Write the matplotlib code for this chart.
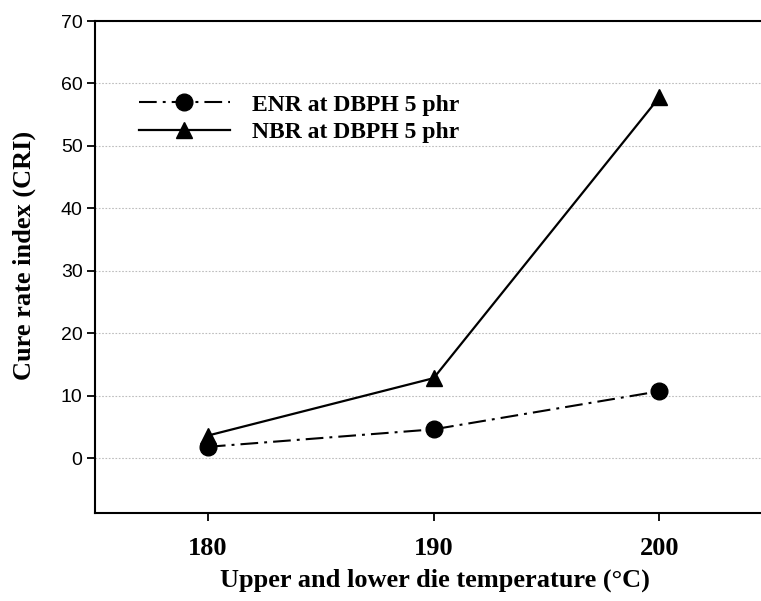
import matplotlib
matplotlib.use("Agg")
import matplotlib.pyplot as plt

temps = [180, 190, 200]
enr = [1.8, 4.6, 10.7]
nbr = [3.6, 12.8, 57.8]
yticks = [0, 10, 20, 30, 40, 50, 60, 70]
xticks = [180, 190, 200]
enr_label = "ENR at DBPH 5 phr"
nbr_label = "NBR at DBPH 5 phr"

serif = ["Liberation Serif", "DejaVu Serif"]
sans = ["Liberation Sans", "DejaVu Sans"]

W, H = 761, 601
fig = plt.figure(figsize=(W / 100, H / 100), dpi=100)
ax = fig.add_axes([95 / W, 1 - 513 / H, (W - 95) / W, (513 - 21) / H])

ax.plot(temps, enr, color="black", lw=1.5, dashes=[8.5, 2.9, 1.4, 2.9],
        marker="o", markersize=12, label=enr_label)
ax.plot(temps, nbr, color="black", lw=1.6, linestyle="-",
        marker="^", markersize=12, label=nbr_label)

ax.set_xlim(175, 204.5)
ax.set_ylim(-8.8, 70)
ax.set_yticks(yticks)
ax.set_xticks(xticks)
ax.spines["right"].set_visible(False)
for s in ["left", "bottom", "top"]:
    ax.spines[s].set_linewidth(1.5)

ax.yaxis.grid(True, linestyle=(0, (1.5, 1.5)), color="#bdbdbd", lw=0.8)
ax.set_axisbelow(True)

ax.tick_params(axis="y", direction="out", length=6, width=1.3, pad=3)
ax.tick_params(axis="x", direction="out", length=6, width=1.3, pad=11)
for lab in ax.get_yticklabels():
    lab.set_fontfamily(sans)
    lab.set_fontsize(14)
for lab in ax.get_xticklabels():
    lab.set_fontfamily(serif)
    lab.set_fontweight("bold")
    lab.set_fontsize(19)

fig.text(24 / W, 1 - 255 / H, "Cure rate index (CRI)", rotation=90,
         ha="center", va="center", fontfamily=serif, fontweight="bold",
         fontsize=19)
fig.text(435 / W, 1 - 580 / H,
         "Upper and lower die temperature (\u00b0C)",
         ha="center", va="center", fontfamily=serif, fontweight="bold",
         fontsize=19)

leg = ax.legend(loc="upper left", bbox_to_anchor=(139 / W, 1 - 94 / H),
                bbox_transform=fig.transFigure, frameon=False, borderpad=0,
                borderaxespad=0, handlelength=3.85, handletextpad=0.93,
                labelspacing=0.27,
                prop={"family": serif, "weight": "bold", "size": 17})

fig.savefig("out.png", dpi=100)
